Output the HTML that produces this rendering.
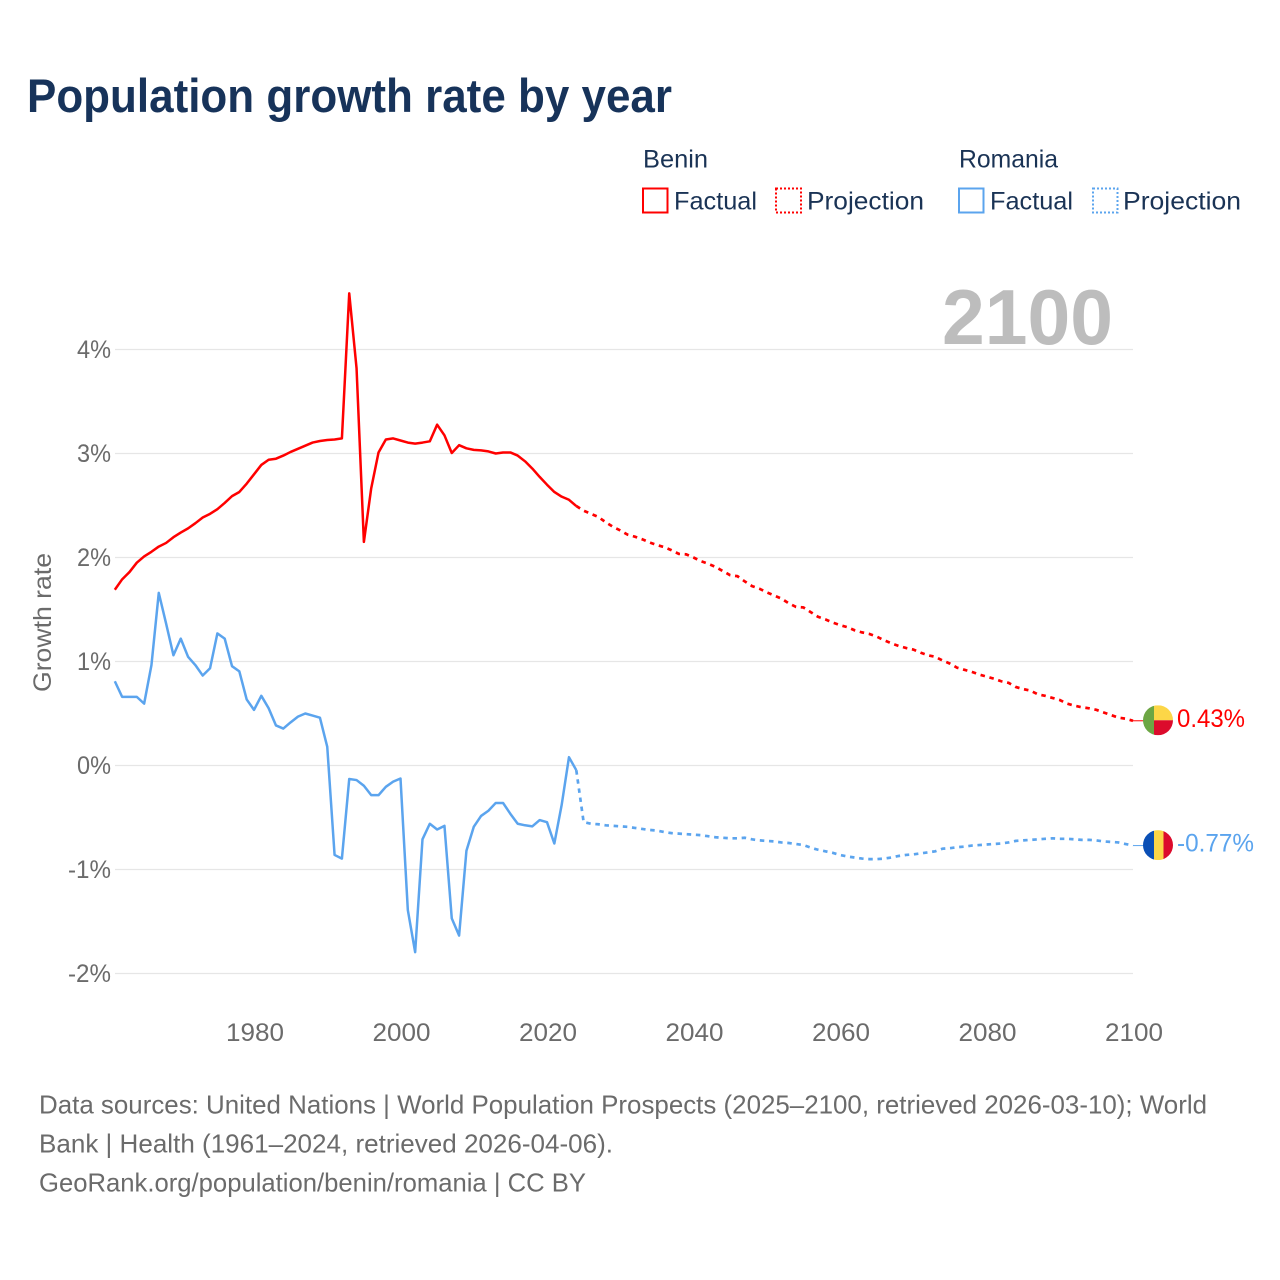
<!DOCTYPE html>
<html lang="en">
<head>
<meta charset="utf-8">
<title>Population growth rate by year</title>
<style>
html,body{margin:0;padding:0;background:#fff;width:1280px;height:1280px;overflow:hidden}
svg{display:block}
text{font-family:"Liberation Sans",sans-serif}
.legend{font-size:25px;fill:#1a3355}
.foot{font-size:26px;fill:#6b6b6b}
.tick{font-size:25px;fill:#6b6b6b}
</style>
</head>
<body>
<svg id="chart" width="1280" height="1280" viewBox="0 0 1280 1280" xmlns="http://www.w3.org/2000/svg">
  <text x="27" y="112" font-size="47" font-weight="700" fill="#17335a" textLength="645" lengthAdjust="spacingAndGlyphs">Population growth rate by year</text>

  <g>
    <text class="legend" x="643" y="167.5" textLength="65" lengthAdjust="spacingAndGlyphs">Benin</text>
    <text class="legend" x="959" y="167.5" textLength="99" lengthAdjust="spacingAndGlyphs">Romania</text>
    <rect x="643" y="188.5" width="24.5" height="24" fill="none" stroke="#ff0000" stroke-width="2"/>
    <text class="legend" x="674" y="209.5" textLength="83" lengthAdjust="spacingAndGlyphs">Factual</text>
    <rect x="776" y="188.5" width="25" height="24" fill="none" stroke="#ff0000" stroke-width="2" stroke-dasharray="2,2"/>
    <text class="legend" x="807" y="209.5" textLength="117" lengthAdjust="spacingAndGlyphs">Projection</text>
    <rect x="959" y="188.5" width="24.5" height="24" fill="none" stroke="#5ba4ee" stroke-width="2"/>
    <text class="legend" x="990" y="209.5" textLength="83" lengthAdjust="spacingAndGlyphs">Factual</text>
    <rect x="1093" y="188.5" width="24.5" height="24" fill="none" stroke="#5ba4ee" stroke-width="2" stroke-dasharray="2,2"/>
    <text class="legend" x="1123" y="209.5" textLength="118" lengthAdjust="spacingAndGlyphs">Projection</text>
  </g>

  <g id="grid"></g>
  <g id="yticks"></g>
  <g id="xticks"></g>

  <text x="942" y="344" font-size="78" font-weight="700" fill="#bdbdbd" textLength="171" lengthAdjust="spacingAndGlyphs">2100</text>

  <text class="tick" transform="translate(51,692) rotate(-90)" x="0" y="0" textLength="139" lengthAdjust="spacingAndGlyphs">Growth rate</text>

  <g id="series"></g>

  <defs>
    <clipPath id="clip-benin"><circle id="clip-benin-circle" cx="1158" cy="720" r="15"/></clipPath>
    <clipPath id="clip-romania"><circle id="clip-romania-circle" cx="1158" cy="845" r="15"/></clipPath>
  </defs>
  <g id="benin-end"></g>
  <g id="romania-end"></g>

  <g>
    <text class="foot" x="39" y="1113.5" textLength="1168" lengthAdjust="spacingAndGlyphs">Data sources: United Nations | World Population Prospects (2025–2100, retrieved 2026-03-10); World</text>
    <text class="foot" x="39" y="1152.5" textLength="574" lengthAdjust="spacingAndGlyphs">Bank | Health (1961–2024, retrieved 2026-04-06).</text>
    <text class="foot" x="39" y="1191.5" textLength="547" lengthAdjust="spacingAndGlyphs">GeoRank.org/population/benin/romania | CC BY</text>
  </g>
</svg>

<script>
const yTickValues = [4, 3, 2, 1, 0, -1, -2];
const yTickLabels = ["4%", "3%", "2%", "1%", "0%", "-1%", "-2%"];
const xTickYears = [1980, 2000, 2020, 2040, 2060, 2080, 2100];
const factualStartYear = 1961;
const beninFactual = [
  1.69,1.79,1.86,1.95,2.01,2.055,2.105,2.14,2.195,2.24,
  2.28,2.33,2.385,2.42,2.465,2.525,2.59,2.63,2.71,2.80,
  2.89,2.94,2.95,2.98,3.015,3.045,3.075,3.105,3.12,3.13,
  3.135,3.145,4.54,3.82,2.15,2.665,3.01,3.135,3.145,3.125,
  3.105,3.095,3.105,3.117,3.277,3.175,3.005,3.08,3.05,3.035,
  3.03,3.02,3.0,3.01,3.01,2.98,2.925,2.855,2.775,2.70,
  2.63,2.585,2.555,2.495
];
const beninProjection = [
  2.45,2.42,2.39,2.34,2.295,2.26,
  2.22,2.20,2.175,2.145,2.12,2.10,2.07,2.035,2.03,2.0,
  1.965,1.94,1.91,1.87,1.83,1.82,1.77,1.725,1.70,1.665,
  1.635,1.605,1.56,1.525,1.52,1.475,1.43,1.405,1.375,1.35,
  1.33,1.30,1.28,1.265,1.24,1.205,1.175,1.15,1.13,1.115,
  1.085,1.06,1.045,1.01,0.98,0.94,0.92,0.90,0.875,0.855,
  0.835,0.81,0.795,0.755,0.735,0.72,0.685,0.67,0.65,0.63,
  0.595,0.575,0.56,0.55,0.535,0.51,0.485,0.46,0.45,0.43
];
const romaniaFactual = [
  0.81,0.66,0.66,0.66,0.595,0.965,1.66,1.365,1.06,1.22,
  1.045,0.965,0.865,0.935,1.27,1.22,0.955,0.905,0.635,0.535,
  0.67,0.55,0.385,0.355,0.415,0.47,0.50,0.48,0.46,0.18,
  -0.86,-0.895,-0.13,-0.14,-0.195,-0.285,-0.285,-0.205,-0.155,-0.125,
  -1.39,-1.795,-0.71,-0.56,-0.615,-0.58,-1.47,-1.635,-0.82,-0.59,
  -0.485,-0.435,-0.36,-0.36,-0.465,-0.56,-0.575,-0.585,-0.525,-0.545,
  -0.75,-0.38,0.08,-0.045
];
const romaniaProjection = [
  -0.545,-0.56,-0.565,-0.575,-0.58,-0.585,
  -0.59,-0.60,-0.61,-0.62,-0.625,-0.64,-0.65,-0.655,-0.66,-0.665,
  -0.67,-0.68,-0.69,-0.695,-0.70,-0.70,-0.695,-0.71,-0.72,-0.725,
  -0.73,-0.74,-0.745,-0.755,-0.765,-0.79,-0.81,-0.825,-0.84,-0.86,
  -0.875,-0.885,-0.895,-0.90,-0.90,-0.895,-0.885,-0.87,-0.86,-0.855,
  -0.845,-0.835,-0.825,-0.80,-0.795,-0.785,-0.78,-0.77,-0.765,-0.76,
  -0.755,-0.75,-0.74,-0.725,-0.72,-0.715,-0.71,-0.705,-0.70,-0.705,
  -0.705,-0.71,-0.715,-0.715,-0.72,-0.73,-0.735,-0.74,-0.755,-0.77
];
const beninEndLabel = "0.43%";
const romaniaEndLabel = "-0.77%";

const NS = "http://www.w3.org/2000/svg";
const COLOR_BENIN = "#ff0000";
const COLOR_ROMANIA = "#5ba4ee";
function xScale(year) { return 254 + (year - 1980) * 7.325; }
function yScale(v) { return 765.5 - v * 104; }
function make(tag, attrs, parent) {
  const el = document.createElementNS(NS, tag);
  for (const k in attrs) el.setAttribute(k, attrs[k]);
  parent.appendChild(el);
  return el;
}
function pathFrom(points) {
  return points.map((p, i) => (i ? "L" : "M") + xScale(p[0]).toFixed(2) + " " + yScale(p[1]).toFixed(2)).join(" ");
}

const gridGroup = document.getElementById("grid");
const yTickGroup = document.getElementById("yticks");
yTickValues.forEach((v, i) => {
  const line = make("line", {x1: 115, x2: xScale(2100), y1: yScale(v), y2: yScale(v), stroke: "#e6e6e6", "stroke-width": 1.3}, gridGroup);
  
  
  const label = yTickLabels[i];
  const t = make("text", {class: "tick", x: 111, y: yScale(v) + 8.5, "text-anchor": "end", textLength: 34 + (label.length - 2) * 9, lengthAdjust: "spacingAndGlyphs"}, yTickGroup);
  t.textContent = label;
  
  
});

const xTickGroup = document.getElementById("xticks");
xTickYears.forEach((yr) => {
  const t = make("text", {class: "tick", x: xScale(yr) + 1, y: 1041, "text-anchor": "middle", textLength: 58, lengthAdjust: "spacingAndGlyphs"}, xTickGroup);
  t.textContent = String(yr);
  
  
});

function drawSeries(factual, projection, color, key) {
  const group = document.getElementById("series");
  const fPts = factual.map((v, i) => [factualStartYear + i, v]);
  const lastYear = factualStartYear + factual.length - 1;
  const pPts = [fPts[fPts.length - 1]].concat(projection.map((v, i) => [lastYear + 1 + i, v]));
  const solid = make("path", {d: pathFrom(fPts), fill: "none", stroke: color, "stroke-width": 2.5, "stroke-linejoin": "round"}, group);
  
  
  const dashed = make("path", {d: pathFrom(pPts), fill: "none", stroke: color, "stroke-width": 2.7, "stroke-dasharray": "4.5,4.7"}, group);
  
  
  return pPts[pPts.length - 1];
}
const beninEnd = drawSeries(beninFactual, beninProjection, COLOR_BENIN, "benin");
const romaniaEnd = drawSeries(romaniaFactual, romaniaProjection, COLOR_ROMANIA, "romania");

function connector(end, color, parent) {
  const ly = yScale(end[1]);
  const c = make("line", {x1: xScale(end[0]), x2: 1144, y1: ly, y2: ly, stroke: color, "stroke-width": 1}, parent);
  
  
}

const beninGroup = document.getElementById("benin-end");
const by = yScale(beninEnd[1]) - 0.5;
connector(beninEnd, COLOR_BENIN, beninGroup);
document.getElementById("clip-benin-circle").setAttribute("cy", by);
const beninFlag = make("g", {"clip-path": "url(#clip-benin)"}, beninGroup);


make("rect", {x: 1143, y: by - 15, width: 11, height: 30, fill: "#6ca644"}, beninFlag);
make("rect", {x: 1154, y: by - 15, width: 19, height: 15, fill: "#fcd647"}, beninFlag);
make("rect", {x: 1154, y: by, width: 19, height: 15, fill: "#dc0b2c"}, beninFlag);
const beninLabel = make("text", {x: 1177, y: by + 6.5, "font-size": 25, fill: COLOR_BENIN, textLength: 68, lengthAdjust: "spacingAndGlyphs"}, beninGroup);
beninLabel.textContent = beninEndLabel;



const romaniaGroup = document.getElementById("romania-end");
const ry = yScale(romaniaEnd[1]) - 0.5;
connector(romaniaEnd, COLOR_ROMANIA, romaniaGroup);
document.getElementById("clip-romania-circle").setAttribute("cy", ry);
const romaniaFlag = make("g", {"clip-path": "url(#clip-romania)"}, romaniaGroup);


make("rect", {x: 1143, y: ry - 15, width: 11, height: 30, fill: "#0a4fb5"}, romaniaFlag);
make("rect", {x: 1154, y: ry - 15, width: 9.5, height: 30, fill: "#fcd647"}, romaniaFlag);
make("rect", {x: 1163.5, y: ry - 15, width: 10, height: 30, fill: "#dc0b2c"}, romaniaFlag);
const romaniaLabel = make("text", {x: 1177, y: ry + 6.5, "font-size": 25, fill: COLOR_ROMANIA, textLength: 77, lengthAdjust: "spacingAndGlyphs"}, romaniaGroup);
romaniaLabel.textContent = romaniaEndLabel;


</script>
</body>
</html>
